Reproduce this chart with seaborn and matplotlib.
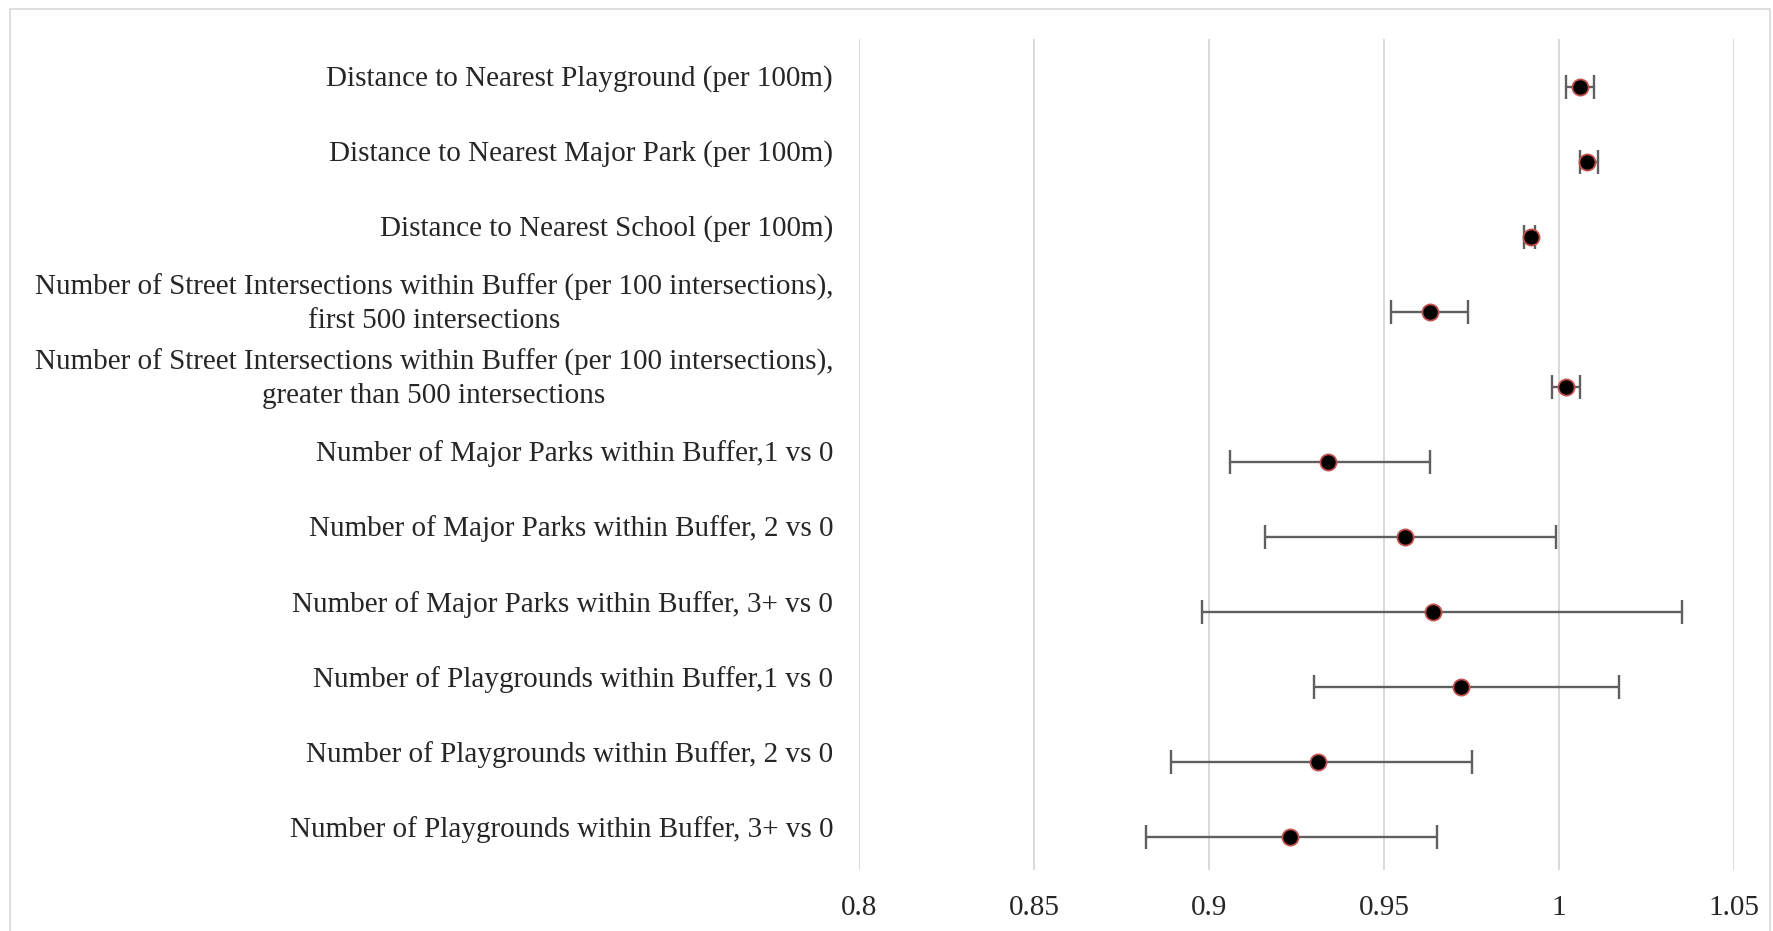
import numpy as np
import pandas as pd
import matplotlib
matplotlib.use("Agg")
import matplotlib.pyplot as plt
import matplotlib.transforms as mtransforms
from matplotlib.patches import Rectangle
import seaborn as sns

# odds ratios with 95% CI
labels = [
    "Distance to Nearest Playground (per 100m)",
    "Distance to Nearest Major Park (per 100m)",
    "Distance to Nearest School (per 100m)",
    "Number of Street Intersections within Buffer (per 100 intersections),\nfirst 500 intersections",
    "Number of Street Intersections within Buffer (per 100 intersections),\ngreater than 500 intersections",
    "Number of Major Parks within Buffer,1 vs 0",
    "Number of Major Parks within Buffer, 2 vs 0",
    "Number of Major Parks within Buffer, 3+ vs 0",
    "Number of Playgrounds within Buffer,1 vs 0",
    "Number of Playgrounds within Buffer, 2 vs 0",
    "Number of Playgrounds within Buffer, 3+ vs 0",
]
estimate = [1.006, 1.008, 0.992, 0.963, 1.002, 0.934, 0.956, 0.964, 0.972, 0.931, 0.923]
lower = [1.002, 1.006, 0.990, 0.952, 0.998, 0.906, 0.916, 0.898, 0.930, 0.889, 0.882]
upper = [1.010, 1.011, 0.993, 0.974, 1.006, 0.963, 0.999, 1.035, 1.017, 0.975, 0.965]

xticks = [0.8, 0.85, 0.9, 0.95, 1.0, 1.05]
xtick_labels = ["0.8", "0.85", "0.9", "0.95", "1", "1.05"]

df = pd.DataFrame({"label": labels, "est": estimate, "lo": lower, "hi": upper})
df["pos"] = np.arange(len(df))

sns.set_style("whitegrid")
plt.rcParams["font.family"] = ["Liberation Serif", "DejaVu Serif"]
plt.rcParams["font.size"] = 21

fig = plt.figure(figsize=(17.73, 9.31), dpi=100)
ax = fig.add_axes([0.4845, 0.0655, 0.4936, 0.8926])

# whiskers first so the dots sit on top
ax.errorbar(df["est"], df["pos"],
            xerr=[df["est"] - df["lo"], df["hi"] - df["est"]],
            fmt="none", ecolor="#5f5f5f", elinewidth=1.7, capsize=8.5,
            capthick=1.7, zorder=2)
sns.scatterplot(data=df, x="est", y="pos", ax=ax, color="black",
                edgecolor="#C0504D", linewidth=1.3, s=135, zorder=3,
                legend=False)

ax.set_xlim(0.8, 1.05)
ax.set_ylim(10.44, -0.64)
ax.set_xticks(xticks)
ax.set_xticklabels(xtick_labels)
ax.set_yticks([])
ax.set_xlabel("")
ax.set_ylabel("")
ax.grid(axis="x", color="#d9d9d9", linewidth=1.4)
ax.grid(axis="y", visible=False)
ax.tick_params(axis="x", length=0, pad=18, labelsize=21)
sns.despine(ax=ax, left=True, bottom=True)

# category labels, nudged a little above the dots like the original
trans = mtransforms.blended_transform_factory(ax.transAxes, ax.transData)
trans = mtransforms.offset_copy(trans, fig=fig, x=-26, y=8, units="dots")
for _, row in df.iterrows():
    ax.text(0, row["pos"], row["label"], transform=trans, ha="right",
            va="center", multialignment="center", fontsize=21,
            linespacing=1.35)

# light frame around the chart area
fig.patches.append(Rectangle((10 / 1773, -0.05), 1760 / 1773, 1.05 - 9 / 931,
                             transform=fig.transFigure, fill=False,
                             edgecolor="#d9d9d9", linewidth=1.2))

fig.savefig("out.png", dpi=100)
